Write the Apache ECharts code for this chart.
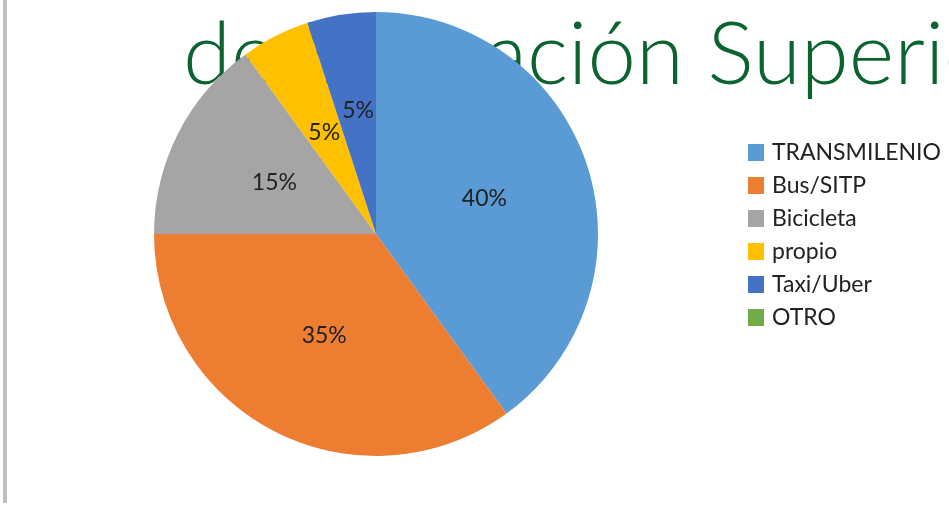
<!DOCTYPE html>
<html>
<head>
<meta charset="utf-8">
<script src="https://cdn.jsdelivr.net/npm/echarts@6/dist/echarts.min.js"></script>
<style>html,body{margin:0;padding:0;background:#fff;}</style>
</head>
<body>
<div id="main" style="width: 949px;height:515px;"></div>
<script type="text/javascript">

    // datos del grafico
    var categorias = ['TRANSMILENIO', 'Bus/SITP', 'Bicicleta', 'propio', 'Taxi/Uber', 'OTRO'];
    var valores = [40, 35, 15, 5, 5, 0];
    var colores = ['#5b9bd5', '#ed7d31', '#a5a5a5', '#ffc000', '#4472c4', '#70ad47'];
    var titulo = 'de Educación Superior';

    var myChart = echarts.init(document.getElementById('main'));

    var datos = [];
    for (var i = 0; i < categorias.length; i++) {
        var item = { name: categorias[i], value: valores[i], itemStyle: { color: colores[i] } };
        if (i == 4) item.label = { offset: [0, -11] }; // Excel lo sube para no chocar
        datos.push(item);
    }

    var option = {
        animation: false,
        backgroundColor: '#fff',
        graphic: [
            {
                type: 'rect', z: 0,
                shape: { x: 3, y: 0, width: 4, height: 503 },
                style: { fill: '#bfbfbf' }
            },
            {
                type: 'text', z: 0,
                style: {
                    text: titulo, x: 183, y: 56,
                    fill: '#0b6430',
                    font: '300 87px Lato',
                    verticalAlign: 'middle'
                }
            }
        ],
        legend: {
            orient: 'vertical',
            left: 748,
            top: 141,
            padding: 0,
            itemWidth: 16,
            itemHeight: 17,
            itemGap: 10,
            icon: 'rect',
            data: categorias,
            textStyle: { fontFamily: 'Lato', fontSize: 23, lineHeight: 23, color: '#222', padding: [0, 0, 0, 3] }
        },
        series: [{
            type: 'pie',
            z: 2,
            center: [376, 234],
            radius: 222,
            startAngle: 90,
            clockwise: true,
            minAngle: 0,
            label: {
                show: true,
                position: 'inside',
                fontFamily: 'Lato',
                fontSize: 23,
                color: '#222',
                formatter: function (p) { return p.value ? p.value + '%' : ''; }
            },
            labelLine: { show: false },
            itemStyle: { borderWidth: 0 },
            emphasis: { disabled: true },
            data: datos
        }]
    };
    myChart.setOption(option);
</script>
</body>
</html>
